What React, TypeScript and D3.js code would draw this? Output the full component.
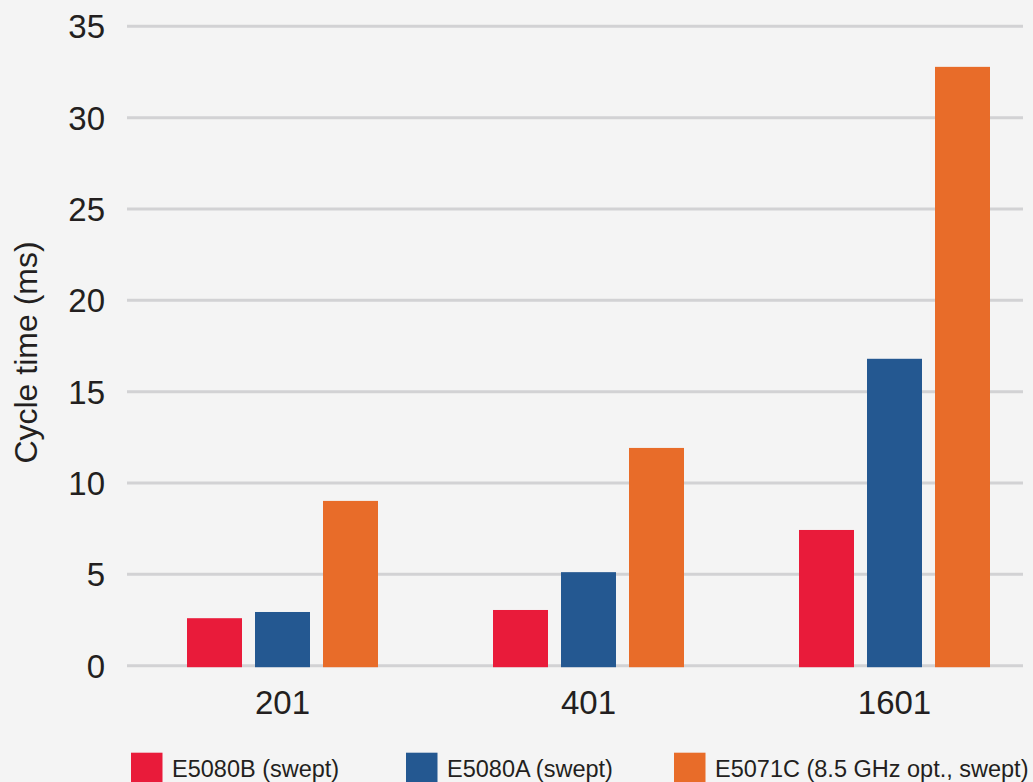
import { useEffect, useRef } from 'react';
import { scaleBand, scaleLinear, select } from 'd3';

const categories = ['201', '401', '1601'];
const seriesNames = ['E5080B (swept)', 'E5080A (swept)', 'E5071C (8.5 GHz opt., swept)'];
const e5080b = [2.6, 3.05, 7.43];
const e5080a = [2.94, 5.12, 16.8];
const e5071c = [9.02, 11.92, 32.78];
const yTicks = [0, 5, 10, 15, 20, 25, 30, 35];

const colors = ['#e91b3a', '#245891', '#e86c29'];
const textColor = '#231f20';
const fontFamily = '"Liberation Sans", Arial, Helvetica, sans-serif';

export default function App() {
  const svgRef = useRef<SVGSVGElement>(null);

  useEffect(() => {
    const svg = select(svgRef.current);
    svg.selectAll('*').remove();

    const seriesValues = [e5080b, e5080a, e5071c];

    const y = scaleLinear().domain([0, 35]).range([665.7, 26.3]);
    const x = scaleBand().domain(categories).range([129.5, 1047.5]);
    // bars inside one group
    const xInner = scaleBand()
      .domain(seriesNames)
      .range([0, 191])
      .paddingInner(13 / 68);

    svg.append('rect').attr('width', 1033).attr('height', 782).attr('fill', '#f4f4f4');

    // gridlines
    svg
      .selectAll('.grid')
      .data(yTicks)
      .join('line')
      .attr('class', 'grid')
      .attr('x1', 127)
      .attr('x2', 1023)
      .attr('y1', (d) => y(d))
      .attr('y2', (d) => y(d))
      .attr('stroke', '#d2d2d4')
      .attr('stroke-width', 3);

    // y tick labels
    svg
      .selectAll('.ytick')
      .data(yTicks)
      .join('text')
      .attr('class', 'ytick')
      .attr('x', 105)
      .attr('y', (d) => y(d) + 12)
      .attr('text-anchor', 'end')
      .attr('font-size', 33)
      .attr('font-family', fontFamily)
      .attr('fill', textColor)
      .text((d) => d);

    // bars
    const groups = svg
      .selectAll('.group')
      .data(categories)
      .join('g')
      .attr('class', 'group')
      .attr('transform', (d) => `translate(${x(d)! + x.bandwidth() / 2 - 95.5},0)`);

    groups
      .selectAll('rect')
      .data((_, i) => seriesNames.map((name, s) => ({ name, s, value: seriesValues[s][i] })))
      .join('rect')
      .attr('x', (d) => xInner(d.name)!)
      .attr('width', xInner.bandwidth())
      .attr('y', (d) => y(d.value))
      .attr('height', (d) => y(0) - y(d.value) + 1.5)
      .attr('fill', (d) => colors[d.s]);

    // x labels
    svg
      .selectAll('.xtick')
      .data(categories)
      .join('text')
      .attr('class', 'xtick')
      .attr('x', (d) => x(d)! + x.bandwidth() / 2)
      .attr('y', 714)
      .attr('text-anchor', 'middle')
      .attr('font-size', 33)
      .attr('font-family', fontFamily)
      .attr('fill', textColor)
      .text((d) => d);

    // y axis title
    svg
      .append('text')
      .attr('transform', 'translate(37,352.5) rotate(-90)')
      .attr('text-anchor', 'middle')
      .attr('font-size', 32)
      .attr('font-family', fontFamily)
      .attr('fill', textColor)
      .text('Cycle time (ms)');

    // legend
    const legendX = [131, 406, 674];
    const legend = svg
      .selectAll('.legend')
      .data(seriesNames)
      .join('g')
      .attr('class', 'legend')
      .attr('transform', (_, i) => `translate(${legendX[i]},752.7)`);
    legend.append('rect').attr('width', 31.5).attr('height', 40).attr('fill', (_, i) => colors[i]);
    legend
      .append('text')
      .attr('x', 41)
      .attr('y', 24.5)
      .attr('font-size', 23.5)
      .attr('font-family', fontFamily)
      .attr('fill', textColor)
      .text((d) => d);
  }, []);

  return (
    <svg
      ref={svgRef}
      width={1033}
      height={782}
      style={{ position: 'absolute', left: 0, top: 0, display: 'block' }}
    ></svg>
  );
}
